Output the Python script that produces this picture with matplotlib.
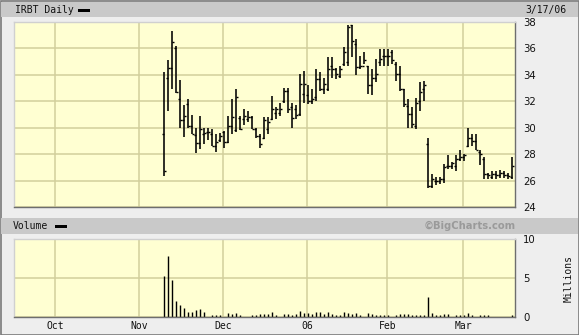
import matplotlib
matplotlib.use('Agg')
import matplotlib.pyplot as plt
import numpy as np
import pandas as pd
from matplotlib.patches import Rectangle

# ---------------- data (IRBT daily, 2005-11-09 .. 2006-03-17) ----------------
opens = [29.5, 33.75, 34.5, 36.0, 32.2, 30.6, 31.8, 30.1, 29.45, 28.85,
         29.5, 29.7, 29.5, 28.6, 29.1, 29.65, 28.95, 30.15, 29.8, 30.7,
         30.65, 30.65, 30.8, 29.9, 29.4, 29.25, 29.9, 30.65, 31.1, 31.15,
         32.05, 32.8, 31.6, 31.4, 31.05, 32.55, 32.45, 32.05, 32.3, 33.7,
         32.95, 32.95, 34.7, 34.45, 33.95, 34.85, 34.95, 37.75, 36.35, 34.6,
         34.7, 34.7, 33.2, 33.8, 34.95, 35.45, 35.45, 35.7, 34.85, 34.1,
         32.95, 31.65, 31.05, 30.15, 32.05, 32.95, 28.75, 25.6, 26.0, 25.95,
         26.1, 27.1, 27.1, 27.1, 27.6, 27.8, 28.6, 29.2, 29.0, 28.2,
         27.6, 26.5, 26.3, 26.5, 26.4, 26.6, 26.4, 26.3]
highs = [34.2, 35.15, 37.3, 36.2, 33.6, 31.7, 32.2, 30.95, 30.0, 30.9,
         30.0, 30.0, 29.9, 29.5, 29.6, 29.75, 30.9, 32.2, 32.95, 30.9,
         31.45, 31.3, 30.9, 30.0, 29.5, 30.8, 30.8, 32.4, 31.55, 31.9,
         33.0, 33.0, 31.9, 31.7, 34.1, 34.3, 33.2, 32.95, 34.45, 34.2,
         33.8, 35.35, 35.35, 34.5, 34.7, 36.1, 37.8, 37.8, 36.7, 35.45,
         35.7, 34.7, 34.45, 35.2, 35.95, 35.95, 35.95, 35.85, 34.95, 34.7,
         32.95, 32.2, 31.55, 32.25, 33.45, 33.5, 29.25, 26.5, 26.3, 26.25,
         27.25, 27.95, 27.4, 27.9, 28.3, 28.0, 30.0, 29.55, 29.55, 28.3,
         27.8, 26.6, 26.75, 26.75, 26.8, 26.75, 26.6, 27.8]
lows = [26.35, 31.3, 32.95, 32.6, 29.95, 29.27, 30.0, 29.5, 28.1, 28.4,
        28.75, 29.1, 28.6, 28.2, 28.9, 28.5, 28.85, 29.5, 29.65, 29.8,
        30.2, 30.4, 29.9, 29.25, 28.5, 29.15, 29.5, 30.55, 30.65, 30.9,
        31.9, 31.15, 30.0, 30.65, 30.9, 31.9, 31.8, 31.8, 32.05, 32.8,
        32.55, 32.8, 33.8, 33.7, 33.75, 34.7, 34.7, 35.35, 34.0, 34.45,
        34.85, 32.55, 32.45, 33.45, 34.7, 34.7, 34.7, 34.85, 33.55, 32.8,
        31.55, 30.0, 30.0, 29.9, 31.3, 32.05, 25.45, 25.45, 25.65, 25.75,
        25.85, 26.9, 26.9, 26.7, 27.5, 27.5, 28.55, 28.65, 28.3, 27.2,
        26.1, 26.1, 26.1, 26.1, 26.2, 26.2, 26.1, 26.1]
closes = [26.7, 34.5, 36.5, 32.7, 30.6, 30.9, 30.1, 29.5, 28.85, 29.9,
          29.6, 29.7, 28.65, 28.9, 29.35, 28.9, 30.15, 30.8, 32.3, 29.9,
          30.9, 30.8, 29.9, 29.4, 28.75, 30.55, 30.4, 31.45, 31.45, 31.4,
          32.8, 31.4, 30.7, 30.95, 33.3, 33.3, 32.05, 32.2, 33.7, 32.95,
          33.3, 34.45, 34.45, 34.1, 34.45, 35.7, 37.6, 36.6, 34.6, 34.7,
          35.1, 33.2, 33.75, 34.1, 35.2, 35.45, 35.45, 35.1, 34.1, 32.95,
          31.8, 31.05, 30.3, 31.9, 32.7, 33.2, 25.6, 26.1, 25.95, 26.1,
          27.0, 27.1, 27.3, 27.6, 27.8, 27.95, 29.2, 29.0, 28.35, 28.0,
          26.5, 26.45, 26.5, 26.4, 26.6, 26.4, 26.35, 27.1]
volumes_m = [5.3, 7.8, 4.7, 2.0, 1.6, 1.2, 0.6, 0.6, 0.85, 1.05,
             0.6, 0.05, 0.3, 0.3, 0.3, 0.05, 0.55, 0.4, 0.5, 0.3,
             0.05, 0.05, 0.3, 0.3, 0.35, 0.35, 0.35, 0.6, 0.3, 0.05,
             0.35, 0.35, 0.3, 0.4, 0.75, 0.55, 0.5, 0.4, 0.6, 0.7,
             0.35, 0.6, 0.4, 0.3, 0.3, 0.6, 0.55, 0.4, 0.55, 0.25,
             0.05, 0.5, 0.35, 0.3, 0.3, 0.3, 0.3, 0.05, 0.3, 0.35,
             0.4, 0.35, 0.3, 0.3, 0.3, 0.3, 2.6, 0.5, 0.3, 0.3,
             0.35, 0.35, 0.05, 0.3, 0.3, 0.3, 0.5, 0.3, 0.05, 0.25,
             0.25, 0.25, 0.05, 0.05, 0.05, 0.05, 0.05, 0.25]

price_ticks = [24, 26, 28, 30, 32, 34, 36, 38]
volume_ticks = [0, 5, 10]
month_labels = ['Oct', 'Nov', 'Dec', '06', 'Feb', 'Mar']
month_starts = ['2005-10-03', '2005-11-01', '2005-12-01', '2006-01-03',
                '2006-02-01', '2006-03-01']
holidays = ['2005-09-05', '2005-11-24', '2005-12-26', '2006-01-02',
            '2006-01-16', '2006-02-20']
first_bar_date = '2005-11-09'
last_date = '2006-03-17'

# ---------------- trading-day calendar as x scale ----------------
days = pd.bdate_range('2005-09-01', last_date, freq='C', holidays=holidays)
pos = {d: i for i, d in enumerate(days)}
bar_dates = days[days >= pd.Timestamp(first_bar_date)]
x = np.array([pos[d] for d in bar_dates], dtype=float)
month_x = np.array([pos[pd.Timestamp(m)] for m in month_starts], dtype=float) - 0.25

W, H = 579, 335
fig = plt.figure(figsize=(W / 100, H / 100), dpi=100)
fig.patch.set_facecolor('#EEEEEE')

def frac(l, t, r, b):
    return [l / W, 1 - b / H, (r - l) / W, (b - t) / H]

BAND = '#C9C9C9'
GRID = '#D2CF9C'
BG = '#FFFFD2'
mono = 'DejaVu Sans Mono'

# outer border & header bands
fig.add_artist(Rectangle((0.5 / W, 0.5 / H), (W - 1) / W, (H - 1) / H,
                         transform=fig.transFigure, fill=False,
                         edgecolor='#7A7A7A', lw=1.2))
fig.add_artist(Rectangle((1 / W, 1 - 17 / H), (W - 2) / W, 15 / H,
                         transform=fig.transFigure, facecolor=BAND, edgecolor='none'))
fig.add_artist(Rectangle((1 / W, 1 - 234 / H), (W - 2) / W, 16 / H,
                         transform=fig.transFigure, facecolor=BAND, edgecolor='none'))

fig.text(15 / W, 1 - 10 / H, 'IRBT Daily', family=mono, fontsize=7,
         va='center', ha='left', color='#111111')
fig.add_artist(Rectangle((78 / W, 1 - 11.5 / H), 12 / W, 3 / H,
                         transform=fig.transFigure, facecolor='black', edgecolor='none'))
fig.text(566 / W, 1 - 10 / H, '3/17/06', family=mono, fontsize=7,
         va='center', ha='right', color='#111111')
fig.text(13 / W, 1 - 226 / H, 'Volume', family=mono, fontsize=7,
         va='center', ha='left', color='#111111')
fig.add_artist(Rectangle((55 / W, 1 - 227.5 / H), 12 / W, 3 / H,
                         transform=fig.transFigure, facecolor='black', edgecolor='none'))
fig.text(516 / W, 1 - 226 / H, '\u00a9BigCharts.com', fontsize=7.2,
         fontweight='bold', va='center', ha='right', color='#9A9A9A')
fig.text(569 / W, 1 - 278 / H, 'Millions', family=mono, fontsize=7,
         rotation=90, va='center', ha='center', color='#111111')

def style_axes(ax):
    ax.set_facecolor(BG)
    for s in ('top', 'left'):
        ax.spines[s].set_color('#D0D0D0')
    for s in ('bottom', 'right'):
        ax.spines[s].set_color('#6E6E6E')
    for s in ax.spines.values():
        s.set_linewidth(1.0)
    ax.yaxis.tick_right()
    ax.tick_params(length=0, colors='#111111', labelsize=7.3)
    ax.set_xticks(month_x)
    ax.grid(True, color=GRID, lw=1.1)
    ax.set_axisbelow(True)
    ax.set_xlim(x[0] - 37.6, x[-1] + 0.7)

# ---------------- price panel ----------------
ax = fig.add_axes(frac(14, 22, 515, 207))
style_axes(ax)
ax.set_ylim(24, 38)
ax.set_yticks(price_ticks)
ax.set_xticklabels([])
ax.tick_params(axis='y', pad=6)
ax.vlines(x, lows, highs, color='black', lw=1.15)
ax.hlines(opens, x - 0.5, x, color='black', lw=1.0)
ax.hlines(closes, x, x + 0.5, color='black', lw=1.0)

# ---------------- volume panel ----------------
av = fig.add_axes(frac(14, 239, 515, 317))
style_axes(av)
av.set_ylim(0, 10)
av.set_yticks(volume_ticks)
av.tick_params(axis='y', pad=6)
av.set_xticklabels(month_labels, family=mono, fontsize=7)
av.tick_params(axis='x', pad=3)
av.vlines(x, 0, volumes_m, color='black', lw=1.0)

fig.savefig('out.png', dpi=100, facecolor=fig.get_facecolor())
